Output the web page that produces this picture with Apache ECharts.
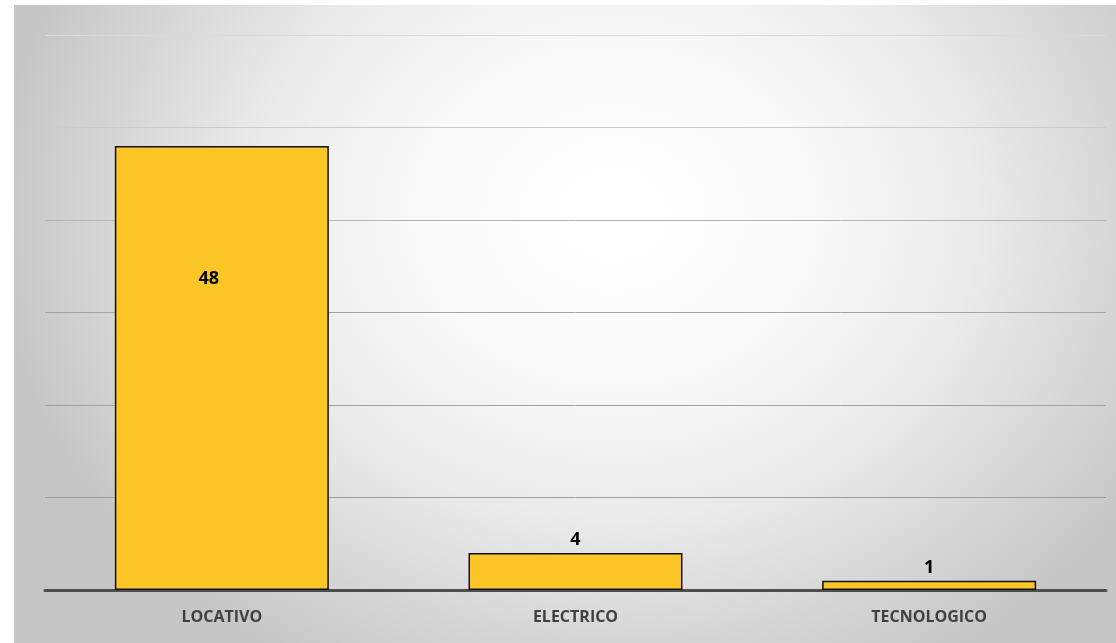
<!DOCTYPE html>
<html>
<head>
<meta charset="utf-8">
<script src="https://cdn.jsdelivr.net/npm/echarts@6/dist/echarts.min.js"></script>
<style>
  html, body { margin: 0; padding: 0; background: #ffffff; width: 1116px; height: 643px; overflow: hidden; }
  #chart {
    position: absolute; left: 14px; top: 5px; width: 1102px; height: 638px;
    background: radial-gradient(ellipse 620px 520px at 600px 210px, #ffffff 0%, #fafafa 30%, #ebebeb 58%, #d6d6d6 82%, #c6c6c6 100%);
  }
</style>
</head>
<body>
<div id="chart"></div>
<script>
// Incident counts by type
const categories = ['LOCATIVO', 'ELECTRICO', 'TECNOLOGICO'];
const counts = [48, 4, 1];
const axisMax = 60;
const axisStep = 10;

const chart = echarts.init(document.getElementById('chart'), null, { renderer: 'canvas' });

chart.setOption({
  backgroundColor: 'transparent',
  animation: false,
  grid: { left: 31, right: 10, top: 30, bottom: 53, containLabel: false },
  xAxis: {
    type: 'category',
    data: categories,
    axisLine: { show: true, lineStyle: { color: '#4d4d4d', width: 3 } },
    axisTick: { show: false },
    axisLabel: {
      color: '#404040',
      fontFamily: 'Open Sans',
      fontWeight: 'bold',
      fontSize: 16,
      margin: 19
    }
  },
  yAxis: {
    type: 'value',
    min: 0,
    max: axisMax,
    interval: axisStep,
    axisLine: { show: false },
    axisTick: { show: false },
    axisLabel: { show: false },
    splitLine: { lineStyle: { color: ['#9c9c9c', '#9c9c9c', '#a0a0a0', '#a4a4a4', '#b4b4b4', '#cbcbcb', '#dadada'], width: 1 } }
  },
  series: [{
    type: 'bar',
    data: counts.map((v, i) => ({
      value: v,
      label: i === 0
        ? { position: ['50%', '30%'], align: 'center', verticalAlign: 'middle', offset: [-13, 0] }
        : { position: 'top', distance: 4 }
    })),
    barWidth: '60.5%',
    itemStyle: { color: '#fdc627', borderColor: '#111111', borderWidth: 1.5 },
    label: {
      show: true,
      color: '#000000',
      fontFamily: 'Open Sans',
      fontWeight: 'bold',
      fontSize: 18
    }
  }]
});
</script>
</body>
</html>
